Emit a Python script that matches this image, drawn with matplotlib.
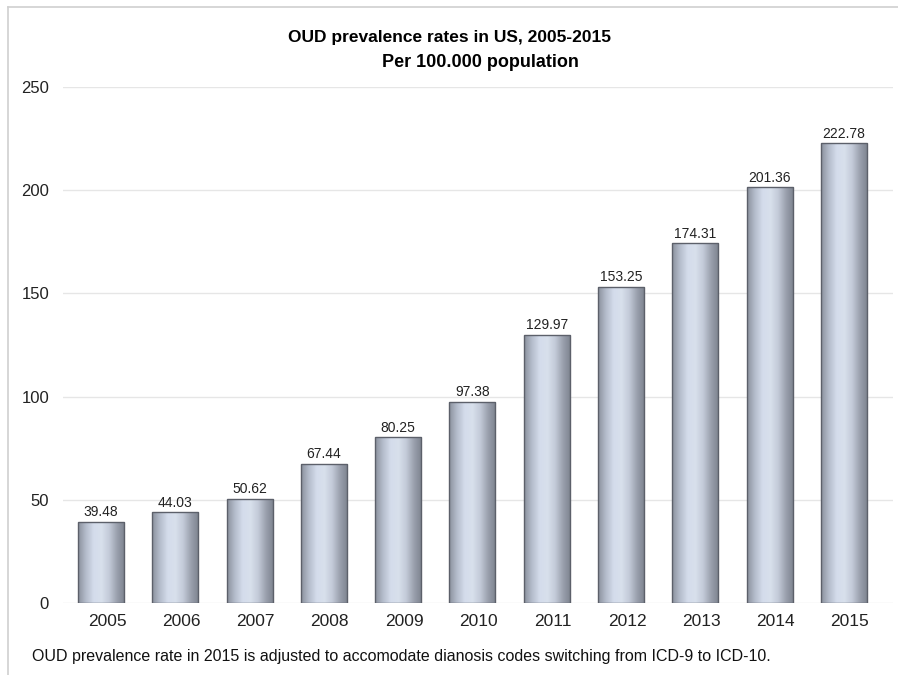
import numpy as np
import matplotlib.pyplot as plt
import matplotlib.transforms as mtransforms
from matplotlib.colors import LinearSegmentedColormap
from matplotlib.lines import Line2D

plt.rcParams['font.family'] = ['Liberation Sans', 'DejaVu Sans']

years = ['2005', '2006', '2007', '2008', '2009', '2010',
         '2011', '2012', '2013', '2014', '2015']
rates = [39.48, 44.03, 50.62, 67.44, 80.25, 97.38,
         129.97, 153.25, 174.31, 201.36, 222.78]

BAR_W = 0.62
cyl = LinearSegmentedColormap.from_list(
    'cyl', ['#8a909c', '#b4bccb', '#d4dceb', '#d8e0ec', '#c3cad8', '#9aa0ad', '#7c828e'])
grad = np.linspace(0, 1, 256).reshape(1, -1)

fig = plt.figure(figsize=(8.98, 6.75), dpi=100)
ax = fig.add_axes([63 / 898, 72 / 675, 830 / 898, 516 / 675])
ax.set_xlim(-0.511, 10.66)
ax.set_ylim(0, 250)

x = np.arange(len(years))
bars = ax.bar(x, rates, width=BAR_W, color='none', edgecolor='#5c606a',
              linewidth=1.0, zorder=3)
for b in bars:
    x0, y0 = b.get_x(), b.get_y()
    im = ax.imshow(grad, cmap=cyl, aspect='auto', zorder=2,
                   extent=[x0, x0 + b.get_width(), y0, y0 + b.get_height()])
    im.set_clip_path(b)

for xi, v in zip(x, rates):
    ax.annotate(f'{v:.2f}', (xi, v), xytext=(0, 4), textcoords='offset points',
                ha='center', va='baseline', fontsize=10, color='#222222', zorder=4)

ax.set_yticks([0, 50, 100, 150, 200, 250])
ax.yaxis.grid(True, color='#e6e6e6', linewidth=1.0, zorder=0)
ax.set_axisbelow(True)
ax.set_xticks(x)
ax.set_xticklabels(years, fontsize=12.5)
ax.tick_params(axis='y', labelsize=12, length=0, pad=10, labelcolor='#222222')
ax.tick_params(axis='x', length=0, pad=8, labelcolor='#222222')
shift = mtransforms.ScaledTranslation(6 / 100, 0, fig.dpi_scale_trans)
for lbl in ax.get_xticklabels():
    lbl.set_transform(lbl.get_transform() + shift)
for s in ax.spines.values():
    s.set_visible(False)

fig.text(0.5, 1 - 41.7 / 675, 'OUD prevalence rates in US, 2005-2015', ha='center',
         va='baseline', fontsize=12.5, fontweight='bold')
fig.text(480 / 898, 1 - 66.7 / 675, 'Per 100.000 population', ha='center', va='baseline',
         fontsize=13, fontweight='bold')
fig.text(32 / 898, 1 - 657 / 675, 'OUD prevalence rate in 2015 is adjusted to accomodate '
         'dianosis codes switching from ICD-9 to ICD-10.', ha='left',
         va='center', fontsize=11.5, color='#111111')

# frame lines at top and left of figure
fig.add_artist(Line2D([8 / 898, 1], [1 - 7 / 675] * 2, transform=fig.transFigure,
                      color='#d0d0d0', linewidth=1.2))
fig.add_artist(Line2D([8 / 898] * 2, [0, 1 - 7 / 675], transform=fig.transFigure,
                      color='#d0d0d0', linewidth=1.2))

fig.savefig('out.png', dpi=100)
